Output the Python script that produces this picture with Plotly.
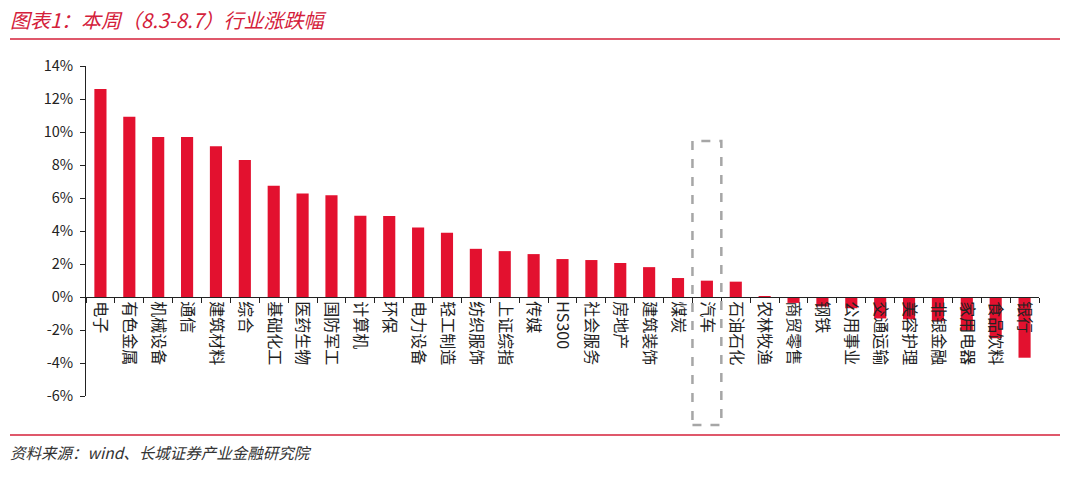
import plotly.graph_objects as go

categories = ["电子", "有色金属", "机械设备", "通信", "建筑材料", "综合", "基础化工", "医药生物",
              "国防军工", "计算机", "环保", "电力设备", "轻工制造", "纺织服饰", "上证综指", "传媒",
              "HS300", "社会服务", "房地产", "建筑装饰", "煤炭", "汽车", "石油石化", "农林牧渔",
              "商贸零售", "钢铁", "公用事业", "交通运输", "美容护理", "非银金融", "家用电器",
              "食品饮料", "银行"]
values = [12.61, 10.92, 9.69, 9.69, 9.13, 8.30, 6.75, 6.27,
          6.17, 4.92, 4.91, 4.21, 3.89, 2.92, 2.78, 2.60,
          2.30, 2.24, 2.06, 1.81, 1.15, 0.99, 0.93, 0.06,
          -0.36, -0.57, -0.68, -1.30, -1.35, -1.45, -2.03,
          -2.50, -3.68]
y_ticks = [-6, -4, -2, 0, 2, 4, 6, 8, 10, 12, 14]
y_tick_labels = [f"{v}%" for v in y_ticks]
highlight = "汽车"

title_text = "图表1：本周（8.3-8.7）行业涨跌幅"
source_text = "资料来源：wind、长城证券产业金融研究院"

RED = "#E3112F"
FONT = "Noto Sans CJK SC"

y_min, y_max = y_ticks[0], y_ticks[-1]
zero_pos = (0 - y_min) / (y_max - y_min)

fig = go.Figure()
fig.add_trace(go.Bar(x=categories, y=values, marker=dict(color=RED, line=dict(width=0)),
                     width=0.42, hoverinfo="x+y"))

hi = categories.index(highlight)
fig.add_shape(type="rect", xref="x", yref="paper", x0=hi - 0.5, x1=hi + 0.5,
              y0=-0.088, y1=0.773, line=dict(color="#A6A6A6", width=2.5, dash="dash"),
              fillcolor="rgba(0,0,0,0)", layer="above")

# header / footer rules
for yy in [1.0 + 27 / 330, -39 / 330]:
    fig.add_shape(type="line", xref="paper", yref="paper", x0=-76 / 953, x1=974 / 953,
                  y0=yy, y1=yy, line=dict(color="#D4203A", width=1.6))

fig.add_annotation(text=title_text, xref="paper", yref="paper", x=-78 / 953, y=1 + 47 / 330,
                   xanchor="left", yanchor="middle", showarrow=False,
                   font=dict(family=FONT, size=20, color="#D4203A", style="italic"))
fig.add_annotation(text=source_text, xref="paper", yref="paper", x=-78 / 953, y=-56 / 330,
                   xanchor="left", yanchor="middle", showarrow=False,
                   font=dict(family=FONT, size=15.5, color="#333333", style="italic"))

fig.update_layout(
    width=1080, height=477,
    margin=dict(l=86, r=41, t=66, b=81),
    paper_bgcolor="white", plot_bgcolor="white",
    showlegend=False,
    font=dict(family=FONT, color="#222222"),
    xaxis=dict(
        type="category", anchor="free", position=zero_pos,
        showline=True, linecolor="#222222", linewidth=1,
        ticks="outside", tickson="boundaries", ticklen=5, tickcolor="#222222",
        tickangle=90, tickfont=dict(size=16, color="#222222"),
        showgrid=False, zeroline=False,
    ),
    yaxis=dict(
        range=[y_min, y_max], tickvals=y_ticks, ticktext=y_tick_labels,
        showline=True, linecolor="#222222", linewidth=1,
        ticks="outside", ticklen=5, tickcolor="#222222", ticklabelstandoff=4,
        tickfont=dict(size=14.5, color="#222222"),
        showgrid=False, zeroline=False,
    ),
)

fig.write_html("out.html", config={"displayModeBar": False},
               post_script="document.body.style.margin='0';")
